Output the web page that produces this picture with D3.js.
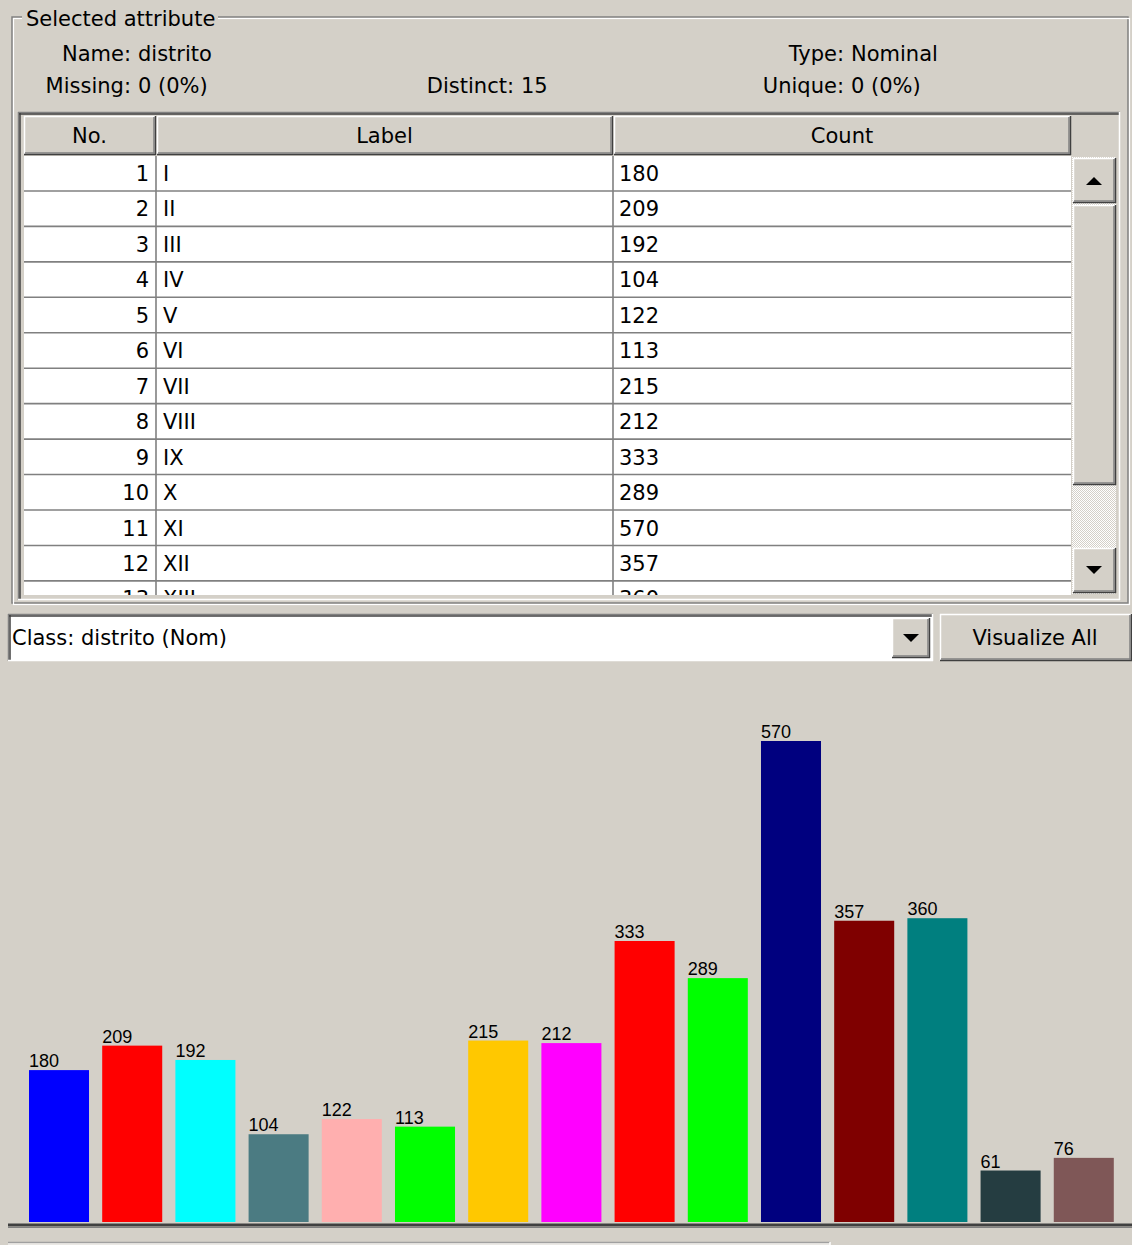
<!DOCTYPE html>
<html>
<head>
<meta charset="utf-8">
<script src="https://cdn.jsdelivr.net/npm/d3@7/dist/d3.min.js"></script>
<style>
  html, body { margin: 0; padding: 0; background: #d4d0c8; }
  svg { display: block; }
  .gui { font-family: "DejaVu Sans", Verdana, sans-serif; font-size: 21px; fill: #000; }
  .bar-label { font-family: "Liberation Sans", Arial, sans-serif; font-size: 18px; fill: #000; }
</style>
</head>
<body>
<svg id="chart" width="1132" height="1245"></svg>
<script>
// ---------------- data ----------------
const categories = ["I","II","III","IV","V","VI","VII","VIII","IX","X","XI","XII","XIII","XIV","XV"];
const counts = [180, 209, 192, 104, 122, 113, 215, 212, 333, 289, 570, 357, 360, 61, 76];
const attributeName = "distrito";
const attributeType = "Nominal";
const missingText = "0 (0%)";
const distinctText = "15";
const uniqueText = "0 (0%)";
const tableHeaders = ["No.", "Label", "Count"];
const classText = "Class: distrito (Nom)";
const buttonText = "Visualize All";
const barColors = ["#0000ff","#ff0000","#00ffff","#4b7b82","#ffafaf","#00ff00","#ffc800","#ff00ff",
                   "#ff0000","#00ff00","#00007f","#7f0000","#007f7f","#253d41","#7f5757"];

(function(){
// ---------------- helpers ----------------
const svg = d3.select("#chart");
const BG = "#d4d0c8";
svg.append("rect").attr("width",1132).attr("height",1245).attr("fill",BG);
const defs = svg.append("defs");

function hline(g, x1, x2, y, c, w=1){ g.append("line").attr("x1",x1).attr("x2",x2).attr("y1",y).attr("y2",y).attr("stroke",c).attr("stroke-width",w); }
function vline(g, x, y1, y2, c, w=1){ g.append("line").attr("x1",x).attr("x2",x).attr("y1",y1).attr("y2",y2).attr("stroke",c).attr("stroke-width",w); }
function raised(g, x, y, w, h, fill=BG){
  g.append("rect").attr("x",x).attr("y",y).attr("width",w).attr("height",h).attr("fill",fill);
  hline(g, x, x+w, y+0.5, "#ffffff", 1.5); vline(g, x+0.5, y, y+h, "#ffffff", 1.5);
  hline(g, x, x+w, y+h-0.5, "#404040", 1.5); vline(g, x+w-0.5, y, y+h, "#404040", 1.5);
  hline(g, x+1, x+w-1, y+h-2, "#808080", 1.5); vline(g, x+w-2, y+1, y+h-1, "#808080", 1.5);
}
function sunken(g, x, y, w, h){
  hline(g, x, x+w, y+0.5, "#808080", 1.5); vline(g, x+0.5, y, y+h, "#808080", 1.5);
  hline(g, x+1, x+w-1, y+2, "#404040", 1.5); vline(g, x+2, y+1, y+h-1, "#404040", 1.5);
  hline(g, x, x+w, y+h-0.5, "#ffffff", 1.5); vline(g, x+w-0.5, y, y+h, "#ffffff", 1.5);
}
function tri(g, cx, cy, up){
  const s = up ? -1 : 1;
  g.append("path").attr("d", `M${cx-8},${cy-4*s} L${cx+8},${cy-4*s} L${cx},${cy+4*s} Z`).attr("fill","#000");
}

// ---------------- group box ----------------
const topG = svg.append("g");
topG.append("rect").attr("x",12).attr("y",17).attr("width",1116).attr("height",586).attr("fill","none").attr("stroke","#808080").attr("stroke-width",1.5);
topG.append("rect").attr("x",13.5).attr("y",18.5).attr("width",1116).attr("height",586).attr("fill","none").attr("stroke","#ffffff").attr("stroke-width",1.2);
topG.append("rect").attr("x",22).attr("y",6).attr("width",196).attr("height",24).attr("fill",BG);
topG.append("text").attr("class","gui").attr("x",26).attr("y",26).text("Selected attribute");

function pair(label, value, xEnd, y){
  topG.append("text").attr("class","gui").attr("x",xEnd).attr("y",y).attr("text-anchor","end").text(label);
  topG.append("text").attr("class","gui").attr("x",xEnd+7).attr("y",y).text(value);
}
pair("Name:", attributeName, 131, 61);
pair("Missing:", missingText, 131, 93);
pair("Distinct:", distinctText, 514, 93);
pair("Type:", attributeType, 844, 61);
pair("Unique:", uniqueText, 844, 93);

// ---------------- table ----------------
const tbl = svg.append("g");
sunken(tbl, 18, 112, 1102, 488);
tbl.append("rect").attr("x",22).attr("y",115).attr("width",1095).attr("height",482).attr("fill",BG);
const cols = [[24,155],[157,612],[614,1070]];
const headY = 116, headH = 39;
cols.forEach((c,i)=>{
  raised(tbl, c[0], headY, c[1]-c[0]+1, headH);
  tbl.append("text").attr("class","gui").attr("x",(c[0]+c[1])/2).attr("y",headY+27).attr("text-anchor","middle").text(tableHeaders[i]);
});
const bodyTop = 156, bodyBot = 595, rowH = 35.45;
tbl.append("rect").attr("x",24).attr("y",bodyTop).attr("width",1047).attr("height",bodyBot-bodyTop).attr("fill","#fff");
defs.append("clipPath").attr("id","bodyClip").append("rect").attr("x",24).attr("y",bodyTop).attr("width",1047).attr("height",bodyBot-bodyTop);
const bodyG = tbl.append("g").attr("clip-path","url(#bodyClip)");
const yRow = d3.scaleLinear().domain([0,1]).range([bodyTop, bodyTop+rowH]);
// only the rows that fall inside the visible viewport of the scroll pane
const visibleRows = categories.map((c,i)=>({no:i+1,label:c,count:counts[i]})).filter((d,i)=>yRow(i) < bodyBot);
const rows = bodyG.selectAll("g.row").data(visibleRows).join("g").attr("class","row");
rows.append("line").attr("x1",24).attr("x2",1071).attr("y1",(d,i)=>yRow(i+1)-0.5).attr("y2",(d,i)=>yRow(i+1)-0.5).attr("stroke","#808080").attr("stroke-width",1.6);
rows.append("text").attr("class","gui").attr("x",149).attr("y",(d,i)=>yRow(i)+25).attr("text-anchor","end").text(d=>d.no);
rows.append("text").attr("class","gui").attr("x",163).attr("y",(d,i)=>yRow(i)+25).text(d=>d.label);
rows.append("text").attr("class","gui").attr("x",619).attr("y",(d,i)=>yRow(i)+25).text(d=>d.count);
vline(bodyG, 156, bodyTop, bodyBot, "#808080", 1.6);
vline(bodyG, 613, bodyTop, bodyBot, "#808080", 1.6);

// scrollbar
const pat = defs.append("pattern").attr("id","dots").attr("width",2).attr("height",2).attr("patternUnits","userSpaceOnUse");
pat.append("rect").attr("width",2).attr("height",2).attr("fill","#ffffff");
pat.append("rect").attr("width",1).attr("height",1).attr("fill",BG);
pat.append("rect").attr("x",1).attr("y",1).attr("width",1).attr("height",1).attr("fill",BG);
tbl.append("rect").attr("x",1072).attr("y",157).attr("width",44).attr("height",437).attr("fill","url(#dots)");
raised(tbl, 1073, 158, 43, 45); tri(tbl, 1094, 181, true);
raised(tbl, 1073, 205, 43, 280);
raised(tbl, 1073, 548, 43, 45); tri(tbl, 1094, 570, false);

// ---------------- class selector ----------------
const sel = svg.append("g");
sel.append("rect").attr("x",8).attr("y",614).attr("width",925).attr("height",47).attr("fill","#fff");
sunken(sel, 8, 614, 925, 47);
sel.append("text").attr("class","gui").attr("x",12).attr("y",645).text(classText);
raised(sel, 892, 618, 38, 40); tri(sel, 911, 638, false);
raised(sel, 940, 614, 192, 47);
sel.append("text").attr("class","gui").attr("x",1035).attr("y",645).attr("text-anchor","middle").text(buttonText);

// ---------------- bar chart ----------------
const baseY = 1222;
const xS = d3.scaleBand().domain(categories).range([29, 1113.8]).paddingInner(0.18).paddingOuter(0);
const yS = d3.scaleLinear().domain([0, 570]).range([baseY, 741]);
const bars = svg.append("g");
bars.selectAll("rect.bar").data(categories).join("rect").attr("class","bar")
  .attr("x", d=>xS(d)).attr("width", xS.bandwidth())
  .attr("y", (d,i)=>yS(counts[i])).attr("height", (d,i)=>baseY - yS(counts[i]))
  .attr("fill", (d,i)=>barColors[i]);
bars.selectAll("text.bar-label").data(categories).join("text").attr("class","bar-label")
  .attr("x", d=>xS(d)).attr("y", (d,i)=>yS(counts[i]) - 3).text((d,i)=>counts[i]);

// axis baseline
const axisG = svg.append("g").attr("transform",`translate(0,${baseY+3})`);
axisG.call(d3.axisBottom(xS).tickSize(0).tickFormat(""));
axisG.select(".domain").attr("d","M8,0H1132").attr("stroke","#404040").attr("stroke-width",3);
hline(svg, 8, 1132, baseY+5.5, "#808080", 1);
// status panel top edge
hline(svg, 8, 830, 1242.5, "#a0a0a0", 1.5);
hline(svg, 8, 830, 1244, "#ffffff", 1);
vline(svg, 830, 1242, 1245, "#ffffff", 1.5);
})();
</script>
</body>
</html>
